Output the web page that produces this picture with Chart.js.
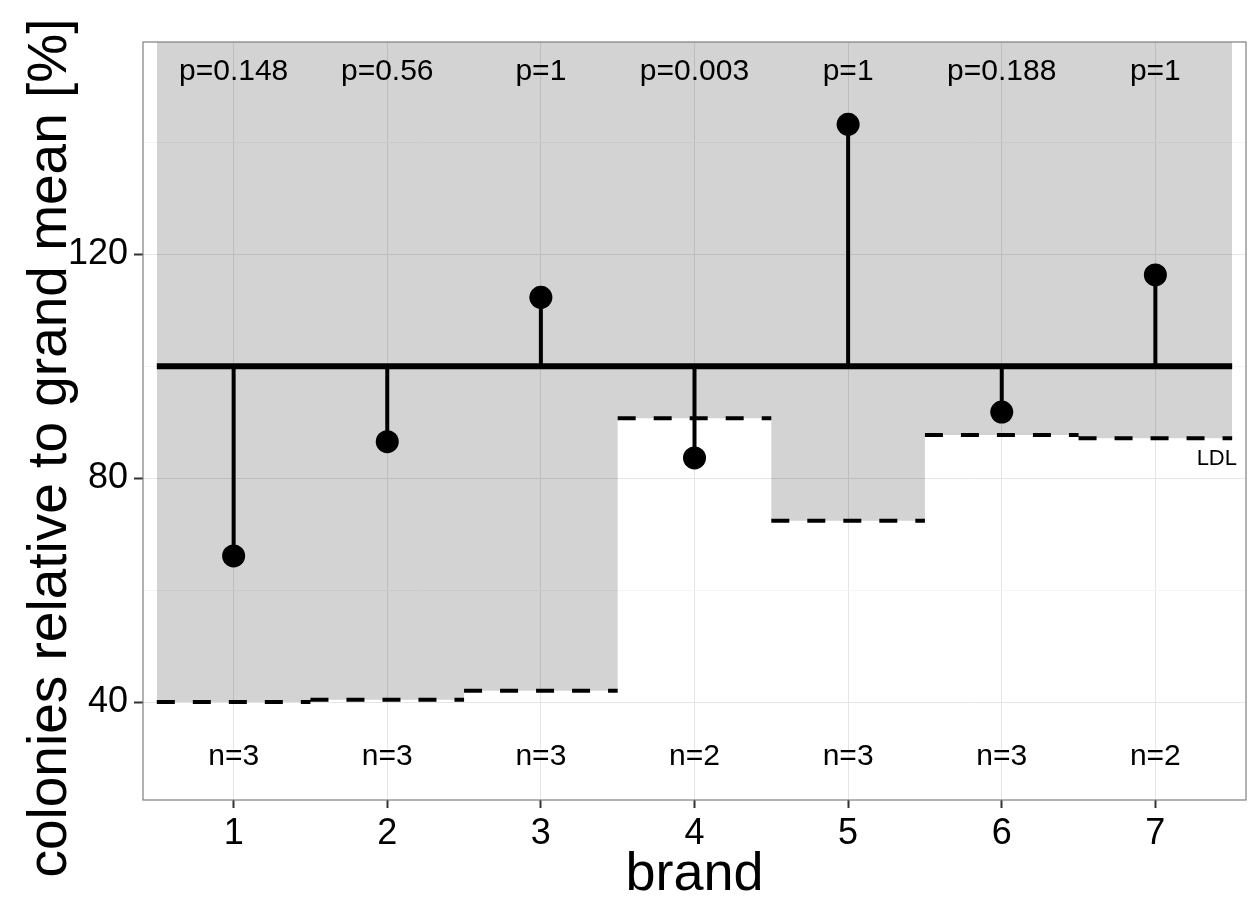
<!DOCTYPE html>
<html>
<head>
<meta charset="utf-8">
<script src="https://cdn.jsdelivr.net/npm/chart.js@4"></script>
<style>
  html, body { margin: 0; padding: 0; background: #fff; }
</style>
</head>
<body>
<canvas id="chart" width="1249" height="902"></canvas>
<script>
// values
const brands = [1, 2, 3, 4, 5, 6, 7];
const relMeans = [66.1, 86.5, 112.3, 83.6, 143.2, 91.8, 116.3];
const ldl = [40.0, 40.4, 42.0, 90.7, 72.4, 87.7, 87.1];
const pLabels = ['p=0.148', 'p=0.56', 'p=1', 'p=0.003', 'p=1', 'p=0.188', 'p=1'];
const nLabels = ['n=3', 'n=3', 'n=3', 'n=2', 'n=3', 'n=3', 'n=2'];
const grandMean = 100;
const yTicks = [40, 60, 80, 100, 120, 140];

const FONT = "'Liberation Sans', Arial, Helvetica, sans-serif";
const Y_TITLE = 'colonies relative to grand mean [%]';

// build point lists from the arrays
let shadePts = [];
let ldlPts = [];
let stemPts = [];
brands.forEach((b, i) => {
    shadePts.push({ x: b - 0.5, y: ldl[i] }, { x: b + 0.5, y: ldl[i] });
    ldlPts.push({ x: b - 0.5, y: ldl[i] }, { x: b + 0.5, y: ldl[i] }, { x: b, y: null });
    stemPts.push({ x: b, y: grandMean }, { x: b, y: relMeans[i] }, { x: b, y: null });
});
const meanPts = brands.map((b, i) => ({ x: b, y: relMeans[i] }));
const refPts = [{ x: brands[0] - 0.5, y: grandMean }, { x: brands[brands.length - 1] + 0.5, y: grandMean }];

// text labels, y title and panel border
const annotations = {
    id: 'annotations',
    afterDatasetsDraw(chart) {
        const ctx = chart.ctx;
        const xs = chart.scales.x;
        const ys = chart.scales.y;
        const area = chart.chartArea;
        ctx.save();
        ctx.fillStyle = '#000';
        ctx.textAlign = 'center';
        ctx.textBaseline = 'middle';
        ctx.font = '30px ' + FONT;
        brands.forEach((b, i) => {
            ctx.fillText(pLabels[i], xs.getPixelForValue(b), ys.getPixelForValue(152.5));
            ctx.fillText(nLabels[i], xs.getPixelForValue(b), ys.getPixelForValue(30.2));
        });
        ctx.font = '22px ' + FONT;
        ctx.fillText('LDL', xs.getPixelForValue(7.4), ys.getPixelForValue(83.4));

        ctx.strokeStyle = '#7f7f7f';
        ctx.lineWidth = 1.2;
        ctx.strokeRect(area.left, area.top, area.right - area.left, area.bottom - area.top);

        // y axis title
        ctx.translate(66, 448);
        ctx.rotate(-Math.PI / 2);
        ctx.textBaseline = 'alphabetic';
        ctx.font = '55px ' + FONT;
        ctx.fillText(Y_TITLE, 0, 0);
        ctx.restore();
    }
};

const chart = new Chart(document.getElementById('chart').getContext('2d'), {
    type: 'scatter',
    data: {
        datasets: [
            {
                // grey band above the detection limit
                data: shadePts,
                showLine: true,
                fill: 'end',
                backgroundColor: 'rgba(0,0,0,0.172)',
                borderWidth: 0,
                pointRadius: 0,
                order: 5
            },
            {
                // LDL dashed segments
                data: ldlPts,
                showLine: true,
                borderColor: '#000',
                borderWidth: 4,
                borderDash: [18, 18],
                borderCapStyle: 'butt',
                pointRadius: 0,
                order: 4
            },
            {
                data: refPts,
                showLine: true,
                borderColor: '#000',
                borderWidth: 6,
                pointRadius: 0,
                order: 3
            },
            {
                data: stemPts,
                showLine: true,
                borderColor: '#000',
                borderWidth: 4,
                pointRadius: 0,
                order: 2
            },
            {
                data: meanPts,
                showLine: false,
                pointRadius: 11.5,
                pointBackgroundColor: '#000',
                pointBorderWidth: 0,
                order: 1
            }
        ]
    },
    options: {
        responsive: false,
        animation: false,
        devicePixelRatio: 1,
        layout: { autoPadding: false, padding: { top: 42, right: 3, left: 0, bottom: 0 } },
        plugins: {
            legend: { display: false },
            tooltip: { enabled: false }
        },
        scales: {
            x: {
                type: 'linear',
                min: 0.41,
                max: 7.59,
                afterBuildTicks: (scale) => { scale.ticks = brands.map(v => ({ value: v })); },
                afterFit: (scale) => {
                    scale.height = 102;
                    scale.paddingLeft = 0;
                    scale.paddingRight = 0;
                },
                border: { display: false },
                grid: {
                    color: '#e5e5e5',
                    lineWidth: 1,
                    tickLength: 8,
                    tickColor: '#333',
                    tickWidth: 2
                },
                ticks: {
                    color: '#000',
                    font: { family: FONT, size: 36 },
                    padding: 4,
                    maxRotation: 0
                },
                title: {
                    display: true,
                    text: 'brand',
                    color: '#000',
                    font: { family: FONT, size: 54, lineHeight: 1.0 },
                    padding: { top: 0, bottom: 0 }
                }
            },
            y: {
                type: 'linear',
                min: 22.5,
                max: 157.9,
                afterBuildTicks: (scale) => { scale.ticks = yTicks.map(v => ({ value: v })); },
                afterFit: (scale) => {
                    scale.width = 143;
                    scale.paddingTop = 0;
                    scale.paddingBottom = 0;
                },
                border: { display: false },
                grid: {
                    color: (c) => (c.tick && c.tick.value % 40 === 0) ? '#e5e5e5' : '#f5f5f5',
                    lineWidth: 1,
                    tickLength: 9,
                    tickColor: (c) => (c.tick && c.tick.value % 40 === 0) ? '#333' : 'rgba(0,0,0,0)',
                    tickWidth: 2
                },
                ticks: {
                    color: '#000',
                    font: { family: FONT, size: 36 },
                    padding: 6,
                    callback: (v) => (v % 40 === 0 ? String(v) : '')
                },
                title: { display: false }
            }
        }
    },
    plugins: [annotations]
});
</script>
</body>
</html>
